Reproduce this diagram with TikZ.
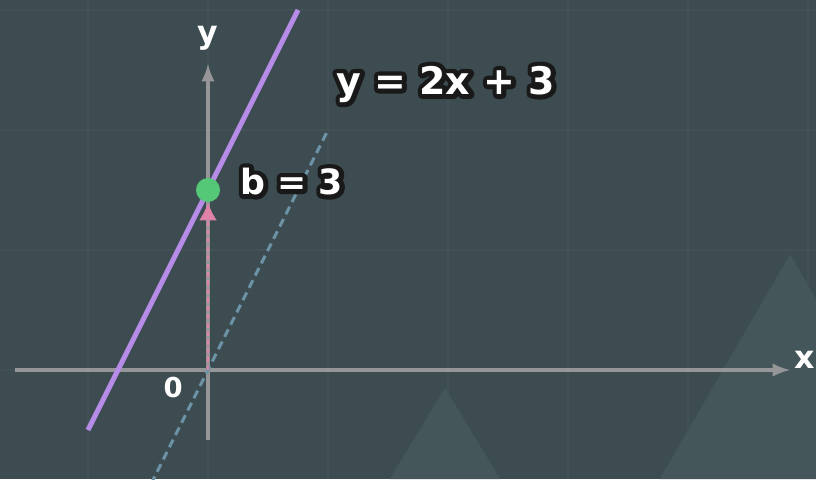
\documentclass[tikz,border=0pt]{standalone}
\usepackage{fontspec}
\setmainfont{DejaVu Sans}
\usetikzlibrary{positioning,arrows.meta}
\tikzset{>=latex}
\definecolor{bgslate}{RGB}{61,76,81}
\definecolor{gridslate}{RGB}{66,81,86}
\definecolor{peakslate}{RGB}{68,86,89}
\definecolor{axisgray}{RGB}{150,150,152}
\definecolor{linepurple}{RGB}{182,140,232}
\definecolor{dashblue}{RGB}{108,146,166}
\definecolor{arrowpink}{RGB}{222,130,168}
\definecolor{dotgreen}{RGB}{85,200,120}
% white text with a dark outline
\newcommand{\outlinetext}[1]{%
  \makebox[0pt][l]{\special{pdf:literal direct q 2 Tr 4.4 w 1 j 1 J}\textcolor{black!90}{#1}\special{pdf:literal direct Q}}%
  \textcolor{white}{#1}}
\tikzset{
  gridline/.style={gridslate, line width=0.6pt},
  axisline/.style={->, axisgray, line width=1.8pt},
  axislabel/.style={text=white, font=\bfseries\fontsize{15}{17}\selectfont},
  biglabel/.style={inner sep=1pt, font=\bfseries\fontsize{18}{20}\selectfont},
}

\begin{document}
\begin{tikzpicture}
  % background and bounding box
  \fill[bgslate] (-3.4667,-1.8167) rectangle (10.1333,6.1667);
  \useasboundingbox (-3.4667,-1.8167) rectangle (10.1333,6.1667);
  \foreach \gx in {-2,0,...,10}
    \draw[gridline] (\gx,-1.8167) -- (\gx,6.1667);
  \foreach \gy in {-2,0,...,6}
    \draw[gridline] (-3.4667,\gy) -- (10.1333,\gy);
  % mountains
  \fill[peakslate] (3.03,-1.8167) -- (3.95,-0.3) -- (4.87,-1.8167) -- cycle;
  \fill[peakslate] (7.53,-1.8167) -- (9.7,1.93) -- (11.87,-1.8167) -- cycle;

  % axes
  \coordinate (O) at (0,0);
  \coordinate (xl) at (-3.2167,0);
  \coordinate (xr) at (9.7,0);
  \coordinate (yb) at (0,-1.1667);
  \coordinate (yt) at (0,5.1);
  \draw[axisline] (xl) -- (xr);
  \draw[axisline] (yb) -- (yt);
  \node[axislabel] (xlab) at (9.94,0.17) {x};
  \node[axislabel] (ylab) at (0,5.53) {y};
  \node[axislabel, font=\bfseries\fontsize{13}{15}\selectfont] (olab) at (-0.58,-0.3) {0};

  % lines y = 2x and y = 2x + 3
  \coordinate (d1) at (-0.95,-1.9);
  \coordinate (d2) at (2,4);
  \draw[dashblue, line width=1.4pt, dash pattern=on 4pt off 2.5pt] (d1) -- (d2);
  \coordinate (p1) at (-2,-1);
  \coordinate (p2) at (1.5,6);
  \draw[linepurple, line width=2.4pt] (p1) -- (p2);

  % intercept
  \node[circle, fill=dotgreen, minimum size=0.4cm, inner sep=0pt] (b) at (0,3) {};
  \draw[-{Latex[length=8.5pt,width=8.5pt]}, arrowpink, line width=1.1pt, dash pattern=on 2.5pt off 1.5pt] (O) -- (b.south);
  \node[biglabel, anchor=west, font=\bfseries\fontsize{16.5}{19}\selectfont] (blab) at (0.5,3.14) {\outlinetext{b = 3}};
  \node[biglabel, anchor=west] (eq) at (2.1,4.76) {\outlinetext{y = 2x + 3}};
\end{tikzpicture}
\end{document}
